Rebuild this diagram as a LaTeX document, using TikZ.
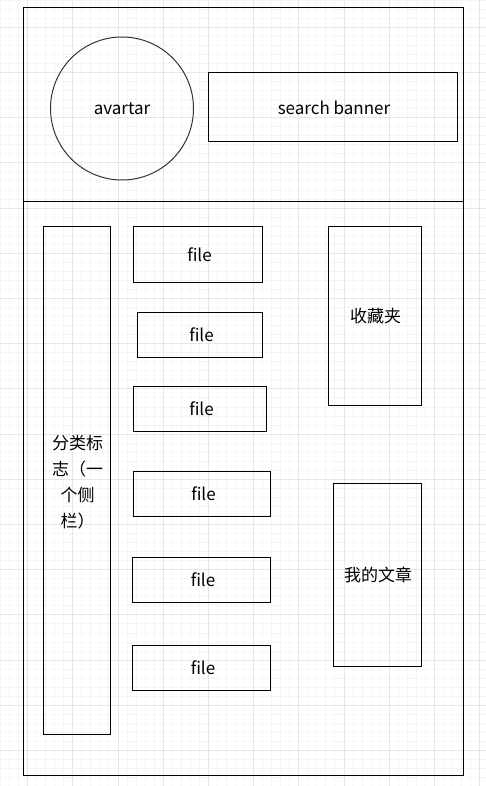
\documentclass[tikz,border=0pt]{standalone}
\usepackage{fontspec}
\setmainfont{Noto Sans CJK SC}
\begin{document}
\begin{tikzpicture}[x=1pt,y=-1pt,
  box/.style={draw=black,line width=1pt,inner sep=0pt},
  lbl/.style={font=\fontsize{17}{26}\selectfont},
  minorgrid/.style={draw={rgb,255:red,245;green,245;blue,245},line width=0.8pt},
  majorgrid/.style={draw={rgb,255:red,230;green,230;blue,230},line width=0.8pt}]
\useasboundingbox (0,0) rectangle (486,786);
% grid
\foreach \i in {0,...,53} {\draw[minorgrid] ({0.4+9.04*\i},0) -- ({0.4+9.04*\i},786);}
\foreach \i in {0,...,87} {\draw[minorgrid] (0,{0.1+9.04*\i}) -- (486,{0.1+9.04*\i});}
\foreach \i in {0,...,10} {\draw[majorgrid] ({27.5+45.2*\i},0) -- ({27.5+45.2*\i},786);}
\foreach \i in {0,...,17} {\draw[majorgrid] (0,{27.2+45.2*\i}) -- (486,{27.2+45.2*\i});}
% frame
\node[box,minimum width=440pt,minimum height=767pt] (frame) at (243,391.5) {};
\coordinate (divL) at (23,202);
\coordinate (divR) at (463,202);
\draw[line width=1pt] (divL) -- (divR);
% header
\node[draw={rgb,255:red,51;green,51;blue,51},line width=1pt,circle,minimum size=143pt,inner sep=0pt,lbl] (avatar) at (122,108.5) {\raisebox{-1pt}{avartar}};
\node[box,lbl,minimum width=249pt,minimum height=69pt] (search) at (332.5,107.5) {\hspace{3pt}\raisebox{-1pt}{search banner}};
% sidebar
\node[box,minimum width=67pt,minimum height=507pt] (side) at (76.5,480.5) {};
\node[lbl,text width=58pt,align=center,inner sep=0pt] (sidetxt) at (77.5,482) {分类标\\志（一\\个侧\\栏）};
% files
\node[box,lbl,minimum width=129pt,minimum height=55pt] (f1) at (197.5,254.5) {\hspace{4pt}\raisebox{-1pt}{file}};
\node[box,lbl,minimum width=125pt,minimum height=45pt] (f2) at (199.5,334.5) {\hspace{4pt}\raisebox{-1pt}{file}};
\node[box,lbl,minimum width=133pt,minimum height=45pt] (f3) at (199.5,408.5) {\hspace{4pt}\raisebox{-1pt}{file}};
\node[box,lbl,minimum width=137pt,minimum height=45pt] (f4) at (201.5,493.5) {\hspace{4pt}\raisebox{-1pt}{file}};
\node[box,lbl,minimum width=138pt,minimum height=45pt] (f5) at (201,579.5) {\hspace{4pt}\raisebox{-1pt}{file}};
\node[box,lbl,minimum width=138pt,minimum height=45pt] (f6) at (201,667.5) {\hspace{4pt}\raisebox{-1pt}{file}};
% right column
\node[box,lbl,minimum width=93pt,minimum height=178pt] (fav) at (374.5,316) {\hspace{2pt}收藏夹};
\node[box,lbl,minimum width=88pt,minimum height=183pt] (art) at (377,574.5) {\hspace{2pt}\raisebox{-1pt}{我的文章}};
\end{tikzpicture}
\end{document}
